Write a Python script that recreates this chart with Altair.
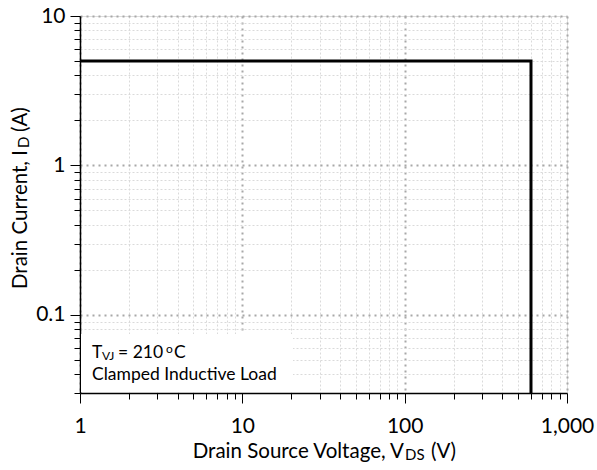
import altair as alt
import pandas as pd

# ---- data ----
vds = [1, 600, 600]          # Drain source voltage (V)
i_d = [5, 5, 0.03]           # Drain current (A)
order = [0, 1, 2]

x_ticks = [1, 2, 3, 4, 5, 6, 7, 8, 9,
           10, 20, 30, 40, 50, 60, 70, 80, 90,
           100, 200, 300, 400, 500, 600, 700, 800, 900, 1000]
y_ticks = [0.03, 0.04, 0.05, 0.06, 0.07, 0.08, 0.09,
           0.1, 0.2, 0.3, 0.4, 0.5, 0.6, 0.7, 0.8, 0.9,
           1, 2, 3, 4, 5, 6, 7, 8, 9, 10]
x_domain = [1, 1000]
y_domain = [0.03, 10]

FONT = "Lato"
W, H = 487, 377

df = pd.DataFrame({"vds": vds, "id": i_d, "o": order})
one = pd.DataFrame({"k": [0]})

is_major = "abs(log(datum.value)/LN10 - round(log(datum.value)/LN10)) < 0.001"


def axis(vals, pad):
    return alt.Axis(
        values=vals,
        title=None,
        labelExpr=f"{is_major} ? format(datum.value, ',') : ''",
        labelOverlap=False,
        labelFlush=False,
        labelFont=FONT,
        labelFontSize=21,
        labelColor="black",
        labelPadding=pad,
        domainColor="black",
        domainWidth=1.5,
        tickColor="black",
        tickWidth=1,
        tickSize={"condition": {"test": is_major, "value": 10}, "value": 6},
        grid=True,
        gridColor={"condition": {"test": is_major, "value": "#a8a8a8"}, "value": "#dadada"},
        gridDash={"condition": {"test": is_major, "value": [2, 4]}, "value": [2, 2]},
        gridWidth={"condition": {"test": is_major, "value": 2}, "value": 1},
    )


line = alt.Chart(df).mark_line(color="black", strokeWidth=3, clip=True).encode(
    x=alt.X("vds:Q", scale=alt.Scale(type="log", domain=x_domain, nice=False), axis=axis(x_ticks, 12)),
    y=alt.Y("id:Q", scale=alt.Scale(type="log", domain=y_domain, nice=False), axis=axis(y_ticks, 5)),
    order="o:Q",
)

box = alt.Chart(one).mark_rect(fill="white").encode(
    x=alt.value(1), x2=alt.value(213), y=alt.value(318), y2=alt.value(376)
)


def txt(s, x, y, size, angle=0, align="left"):
    return alt.Chart(one).mark_text(
        text=s, font=FONT, fontSize=size, color="black", align=align,
        baseline="alphabetic", angle=angle
    ).encode(x=alt.value(x), y=alt.value(y))


ann = [
    txt("T", 12, 342, 17.5),
    txt("VJ", 22, 344, 12),
    txt("= 210", 38, 342, 17.5),
    txt("o", 86, 337, 12),
    txt("C", 94, 342, 17.5),
    txt("Clamped Inductive Load", 12, 364, 17.5),
]

# x title: Drain Source Voltage, V_DS (V)
xt = [
    txt("Drain Source Voltage, V", 324, 442, 20.5, align="right"),
    txt("DS", 325, 444, 15),
    txt("(V)", 351, 442, 20.5),
]

# y title: Drain Current, I_D (A)  (rotated 270)
yt = [
    txt("Drain Current, I", -53, 134, 20.5, angle=270, align="right"),
    txt("D", -51, 132, 15, angle=270, align="left"),
    txt("(A)", -53, 116, 20.5, angle=270, align="left"),
]

chart = alt.layer(line, box, *ann, *xt, *yt).properties(
    width=W, height=H,
    autosize=alt.AutoSizeParams(type="none"),
    padding={"left": 80, "top": 16, "right": 30, "bottom": 77},
).configure_view(stroke="#6e6e6e", strokeWidth=1.5).configure(background="white")

chart.save("out.html", embed_options={"renderer": "svg", "actions": False})
